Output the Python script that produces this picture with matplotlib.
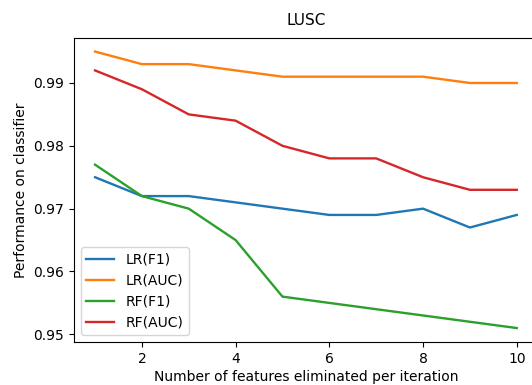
import numpy as np
import matplotlib
matplotlib.use('Agg')
import matplotlib.pyplot as plt

plt.rcParams['font.family'] = ['DejaVu Sans']

n_features = [1, 2, 3, 4, 5, 6, 7, 8, 9, 10]
lr_f1 = [0.975, 0.972, 0.972, 0.971, 0.970, 0.969, 0.969, 0.970, 0.967, 0.969]
lr_auc = [0.995, 0.993, 0.993, 0.992, 0.991, 0.991, 0.991, 0.991, 0.990, 0.990]
rf_f1 = [0.977, 0.972, 0.970, 0.965, 0.956, 0.955, 0.954, 0.953, 0.952, 0.951]
rf_auc = [0.992, 0.989, 0.985, 0.984, 0.980, 0.978, 0.978, 0.975, 0.973, 0.973]

fig = plt.figure(figsize=(5.32, 3.85), dpi=100)
ax = fig.add_axes([0.139, 0.112, 0.872, 0.79])

ax.plot(n_features, lr_f1, label='LR(F1)', lw=1.7)
ax.plot(n_features, lr_auc, label='LR(AUC)', lw=1.7)
ax.plot(n_features, rf_f1, label='RF(F1)', lw=1.7)
ax.plot(n_features, rf_auc, label='RF(AUC)', lw=1.7)

ax.set_yticks([0.95, 0.96, 0.97, 0.98, 0.99])
ax.set_title('LUSC', fontsize=11, pad=9)
ax.set_xlabel('Number of features eliminated per iteration', fontsize=10, labelpad=3)
ax.set_ylabel('Performance on classifier', fontsize=10)
ax.tick_params(labelsize=10)
ax.legend(loc='lower left', fontsize=10)

fig.savefig('out.png', dpi=100)
